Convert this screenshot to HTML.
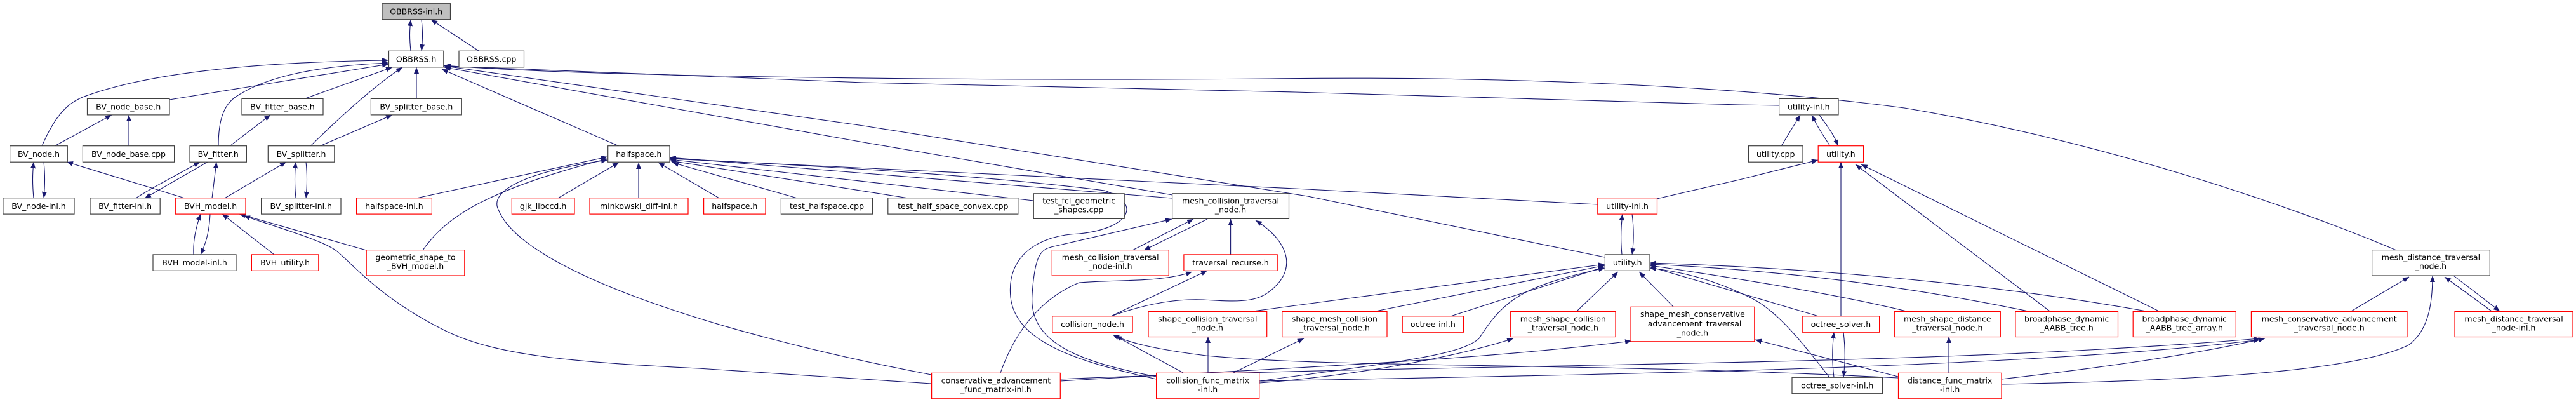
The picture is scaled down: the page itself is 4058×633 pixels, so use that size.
<!DOCTYPE html>
<html><head><meta charset="utf-8"><style>
html,body{margin:0;padding:0;background:#fff;}
svg{display:block;}
text{font-family:"DejaVu Sans","Liberation Sans",sans-serif;font-size:12.5px;fill:#000;text-anchor:middle;}
.e{fill:none;stroke:#191970;stroke-width:1.1;marker-end:url(#a);}
.n{fill:#fff;stroke:#404040;stroke-width:1.2;}
.r{fill:#fff;stroke:#ff0000;stroke-width:1.2;}
.g{fill:#bfbfbf;stroke:#404040;stroke-width:1.2;}
</style></head><body>
<svg width="4058" height="633" viewBox="0 0 4058 633" xmlns="http://www.w3.org/2000/svg">
<defs><marker id="a" markerUnits="userSpaceOnUse" markerWidth="11" markerHeight="8" refX="10" refY="4" orient="auto"><path d="M0,0 L10,4 L0,8 z" fill="#191970"/></marker></defs>
<g>
<path class="e" d="M647,80 C645,60 645,50 647,31"/>
<path class="e" d="M664,31 C666,50 666,60 664,80"/>
<path class="e" d="M754,80 L679,31"/>
<path class="e" d="M66,230 C90,175 110,162 130,153 C250,108 450,97 612,95"/>
<path class="e" d="M267,157 L612,101"/>
<path class="e" d="M344,230 C344,190 352,165 372,152 C420,120 500,104 612,99"/>
<path class="e" d="M481,155 L618,106"/>
<path class="e" d="M489,230 C540,180 590,135 634,106"/>
<path class="e" d="M656,155 L656,106"/>
<path class="e" d="M86,230 L176,181"/>
<path class="e" d="M203,230 L203,181"/>
<path class="e" d="M362,230 L426,181"/>
<path class="e" d="M504,230 L618,181"/>
<path class="e" d="M53,312 C51,290 51,275 53,255"/>
<path class="e" d="M69,255 C71,275 71,290 69,312"/>
<path class="e" d="M291,312 L105,255"/>
<path class="e" d="M214,312 C240,295 280,275 315,255"/>
<path class="e" d="M327,255 L228,312"/>
<path class="e" d="M334,312 L341,255"/>
<path class="e" d="M354,312 L451,255"/>
<path class="e" d="M466,312 C464,290 464,275 466,255"/>
<path class="e" d="M482,255 C484,275 484,290 482,312"/>
<path class="e" d="M305,401 C304,380 308,360 316,337"/>
<path class="e" d="M331,337 C330,360 326,380 316,401"/>
<path class="e" d="M432,401 L350,337"/>
<path class="e" d="M577,394 L377,337"/>
<path class="e" d="M1467,604 L1100,580 C900,570 780,560 700,520 C600,470 560,420 530,395 C510,380 460,365 384,340"/>
<path class="e" d="M666,394 C700,345 760,300 957,250"/>
<path class="e" d="M656,312 L957,247"/>
<path class="e" d="M975,230 L696,109"/>
<path class="e" d="M879,312 L975,256"/>
<path class="e" d="M1006,312 L1006,256"/>
<path class="e" d="M1133,312 L1037,256"/>
<path class="e" d="M1256,312 L1059,256"/>
<path class="e" d="M1431,312 L1055,253"/>
<path class="e" d="M1628,316 L1055,251"/>
<path class="e" d="M1846,312 L1055,248"/>
<path class="e" d="M1467,590 C1100,520 820,420 785,330 C770,300 830,270 957,252"/>
<path class="e" d="M1822,597 C1700,570 1600,540 1592,468 C1585,400 1640,370 1700,368 C1780,360 1800,320 1740,300 C1500,270 1200,258 1055,249"/>
<path class="e" d="M1822,593 C1700,570 1620,540 1626,464 C1630,400 1640,392 1660,388 L1846,345"/>
<path class="e" d="M2528,405 L2060,309 L1360,198 L700,104"/>
<path class="e" d="M2517,322 L2040,297 L1055,250"/>
<path class="e" d="M1847,307 L1360,224 L700,106"/>
<path class="e" d="M2803,166 L2740,165 L2040,145 L1360,130 L700,104"/>
<path class="e" d="M3775,394 C3600,320 3300,220 3000,170 C2700,130 2300,120 2000,124 C1500,128 900,120 700,103"/>
<path class="e" d="M1938.6,401 L1938.6,345"/>
<path class="e" d="M1784,394 L1880,345"/>
<path class="e" d="M1902,345 L1802,394"/>
<path class="e" d="M1750,498 L1902,426"/>
<path class="e" d="M1750,498 C1800,480 1850,470 1896,472 C1960,476 1985,476 2010,450 C2040,420 2030,380 1978,347"/>
<path class="e" d="M1576,587 C1600,520 1640,470 1700,445 C1760,440 1830,445 1878,428"/>
<path class="e" d="M1864,587 L1753,527"/>
<path class="e" d="M1903,587 L1903,530"/>
<path class="e" d="M1943,587 L2054,533"/>
<path class="e" d="M2990,595 C2500,570 2100,580 1900,560 C1820,550 1780,540 1757,529"/>
<path class="e" d="M1974,490 L2528,416"/>
<path class="e" d="M2167,490 L2528,418"/>
<path class="e" d="M2285,498 L2528,420"/>
<path class="e" d="M1984,600 C2200,570 2300,560 2330,533 C2370,470 2400,450 2528,422"/>
<path class="e" d="M2484,490 L2549,428"/>
<path class="e" d="M2636,483 L2582,428"/>
<path class="e" d="M2555,401 C2553,380 2553,360 2556,337"/>
<path class="e" d="M2571,337 C2574,360 2574,380 2571,401"/>
<path class="e" d="M3381,490 C3100,440 2800,420 2599,414"/>
<path class="e" d="M3195,490 C3000,450 2800,425 2599,416"/>
<path class="e" d="M3003,490 C2900,465 2750,440 2599,418"/>
<path class="e" d="M2865,498 L2599,420"/>
<path class="e" d="M2881,593 C2840,540 2800,490 2760,470 C2700,440 2650,428 2599,422"/>
<path class="e" d="M2883,230 C2870,210 2862,198 2854,181"/>
<path class="e" d="M2866,181 C2878,198 2888,210 2896,230"/>
<path class="e" d="M2806,230 L2836,181"/>
<path class="e" d="M2900,498 L2900,255"/>
<path class="e" d="M3229,490 L2923,259"/>
<path class="e" d="M3401,490 L2932,259"/>
<path class="e" d="M2610,313 L2740,283 L2864,252"/>
<path class="e" d="M2889,594 C2886,570 2886,550 2889,523"/>
<path class="e" d="M2904,523 C2907,550 2907,570 2904,594"/>
<path class="e" d="M3070,587 L3070,530"/>
<path class="e" d="M2990,593 L2765,535"/>
<path class="e" d="M3153,597 C3300,580 3450,560 3568,533"/>
<path class="e" d="M3153,605 C3400,600 3700,590 3795,543 C3825,520 3832,480 3832,434"/>
<path class="e" d="M3704,490 L3795,436"/>
<path class="e" d="M3925,490 L3851,436"/>
<path class="e" d="M3865,434 L3938,490"/>
<path class="e" d="M1670,597 C2300,570 3000,580 3560,533"/>
<path class="e" d="M1670,600 C2000,580 2300,570 2570,537"/>
<path class="e" d="M1984,603 C2150,590 2300,560 2384,533"/>
<path class="e" d="M1984,600 C2500,590 3200,580 3560,535"/>
</g>
<g>
<rect class="g" x="602" y="5.7" width="107.5" height="25"/><text x="655.7" y="22.5">OBBRSS-inl.h</text>
<rect class="n" x="612.5" y="80.3" width="86.3" height="25.5"/><text x="655.6" y="97.5">OBBRSS.h</text>
<rect class="n" x="723" y="80.3" width="102.5" height="25.5"/><text x="774.2" y="97.5">OBBRSS.cpp</text>
<rect class="n" x="137.5" y="155.4" width="129.5" height="25.5"/><text x="202.2" y="172.6">BV_node_base.h</text>
<rect class="n" x="381" y="155.4" width="128" height="25.5"/><text x="445" y="172.6">BV_fitter_base.h</text>
<rect class="n" x="584.4" y="155.4" width="142.9" height="25.5"/><text x="655.8" y="172.6">BV_splitter_base.h</text>
<rect class="n" x="2802.6" y="155.4" width="93.4" height="25.5"/><text x="2849.3" y="172.6">utility-inl.h</text>
<rect class="n" x="15.6" y="229.7" width="90.7" height="25.5"/><text x="61" y="246.9">BV_node.h</text>
<rect class="n" x="130.4" y="229.7" width="144.2" height="25.5"/><text x="202.5" y="246.9">BV_node_base.cpp</text>
<rect class="n" x="299" y="229.7" width="89.4" height="25.5"/><text x="343.7" y="246.9">BV_fitter.h</text>
<rect class="n" x="422.3" y="229.7" width="104.5" height="25.5"/><text x="474.5" y="246.9">BV_splitter.h</text>
<rect class="n" x="957.7" y="229.7" width="97.3" height="25.5"/><text x="1006.3" y="246.9">halfspace.h</text>
<rect class="n" x="2754.4" y="229.7" width="85.6" height="25.5"/><text x="2797.2" y="246.9">utility.cpp</text>
<rect class="r" x="2864.2" y="229.7" width="71.4" height="25.5"/><text x="2899.9" y="246.9">utility.h</text>
<rect class="n" x="4.9" y="311.7" width="112.1" height="25.4"/><text x="61" y="328.9">BV_node-inl.h</text>
<rect class="n" x="142" y="311.7" width="110.2" height="25.4"/><text x="197.1" y="328.9">BV_fitter-inl.h</text>
<rect class="r" x="276.3" y="311.7" width="110.7" height="25.4"/><text x="331.6" y="328.9">BVH_model.h</text>
<rect class="n" x="411.6" y="311.7" width="125.4" height="25.4"/><text x="474.3" y="328.9">BV_splitter-inl.h</text>
<rect class="r" x="561.6" y="311.7" width="118.8" height="25.4"/><text x="621" y="328.9">halfspace-inl.h</text>
<rect class="r" x="806.3" y="311.7" width="98.7" height="25.4"/><text x="855.6" y="328.9">gjk_libccd.h</text>
<rect class="r" x="929" y="311.7" width="155" height="25.4"/><text x="1006.5" y="328.9">minkowski_diff-inl.h</text>
<rect class="r" x="1108.6" y="311.7" width="97.4" height="25.4"/><text x="1157.3" y="328.9">halfspace.h</text>
<rect class="n" x="1230.4" y="311.7" width="144.2" height="25.4"/><text x="1302.5" y="328.9">test_halfspace.cpp</text>
<rect class="n" x="1398.8" y="311.7" width="205" height="25.4"/><text x="1501.3" y="328.9">test_half_space_convex.cpp</text>
<rect class="r" x="2516.8" y="311.7" width="93.7" height="25.4"/><text x="2563.6" y="328.9">utility-inl.h</text>
<rect class="n" x="1628.3" y="304.8" width="142.9" height="39.6"/><text x="1699.7" y="320.5">test_fcl_geometric</text><text x="1699.7" y="334.5">_shapes.cpp</text>
<rect class="n" x="1846.6" y="304.8" width="183.9" height="39.6"/><text x="1938.5" y="320.5">mesh_collision_traversal</text><text x="1938.5" y="334.5">_node.h</text>
<rect class="n" x="241" y="400.9" width="131" height="25.4"/><text x="306.5" y="418.1">BVH_model-inl.h</text>
<rect class="r" x="396.4" y="400.9" width="105.4" height="25.4"/><text x="449.1" y="418.1">BVH_utility.h</text>
<rect class="r" x="1864.9" y="400.9" width="147.3" height="25.4"/><text x="1938.5" y="418.1">traversal_recurse.h</text>
<rect class="n" x="2528.4" y="400.9" width="70.6" height="25.4"/><text x="2563.7" y="418.1">utility.h</text>
<rect class="r" x="577.2" y="393.6" width="154.6" height="40.4"/><text x="654.5" y="409.7">geometric_shape_to</text><text x="654.5" y="423.7">_BVH_model.h</text>
<rect class="r" x="1657.3" y="393.6" width="183.9" height="40.4"/><text x="1749.2" y="409.7">mesh_collision_traversal</text><text x="1749.2" y="423.7">_node-inl.h</text>
<rect class="n" x="3736.6" y="393.6" width="185.7" height="40.4"/><text x="3829.4" y="409.7">mesh_distance_traversal</text><text x="3829.4" y="423.7">_node.h</text>
<rect class="r" x="1657.8" y="497.8" width="126.3" height="25.4"/><text x="1721" y="515">collision_node.h</text>
<rect class="r" x="2209.2" y="497.8" width="96.4" height="25.4"/><text x="2257.4" y="515">octree-inl.h</text>
<rect class="r" x="2839.2" y="497.8" width="121.4" height="25.4"/><text x="2899.9" y="515">octree_solver.h</text>
<rect class="r" x="1809" y="490.5" width="186.7" height="40"/><text x="1902.3" y="506.5">shape_collision_traversal</text><text x="1902.3" y="520.5">_node.h</text>
<rect class="r" x="2019.8" y="490.5" width="165.2" height="40"/><text x="2102.4" y="506.5">shape_mesh_collision</text><text x="2102.4" y="520.5">_traversal_node.h</text>
<rect class="r" x="2379.7" y="490.5" width="165.3" height="40"/><text x="2462.3" y="506.5">mesh_shape_collision</text><text x="2462.3" y="520.5">_traversal_node.h</text>
<rect class="r" x="2984.3" y="490.5" width="167" height="40"/><text x="3067.8" y="506.5">mesh_shape_distance</text><text x="3067.8" y="520.5">_traversal_node.h</text>
<rect class="r" x="3174.9" y="490.5" width="161.6" height="40"/><text x="3255.7" y="506.5">broadphase_dynamic</text><text x="3255.7" y="520.5">_AABB_tree.h</text>
<rect class="r" x="3360.2" y="490.5" width="162.1" height="40"/><text x="3441.2" y="506.5">broadphase_dynamic</text><text x="3441.2" y="520.5">_AABB_tree_array.h</text>
<rect class="r" x="3546.4" y="490.5" width="245.6" height="40"/><text x="3669.2" y="506.5">mesh_conservative_advancement</text><text x="3669.2" y="520.5">_traversal_node.h</text>
<rect class="r" x="3867" y="490.5" width="186" height="40"/><text x="3960" y="506.5">mesh_distance_traversal</text><text x="3960" y="520.5">_node-inl.h</text>
<rect class="r" x="2569" y="483.3" width="194.8" height="54.5"/><text x="2666.4" y="498.9">shape_mesh_conservative</text><text x="2666.4" y="513.8">_advancement_traversal</text><text x="2666.4" y="528.6">_node.h</text>
<rect class="n" x="2823" y="594.3" width="142.5" height="25.4"/><text x="2894.2" y="611.5">octree_solver-inl.h</text>
<rect class="r" x="1467.6" y="587.4" width="202.7" height="40.4"/><text x="1569" y="603.5">conservative_advancement</text><text x="1569" y="617.5">_func_matrix-inl.h</text>
<rect class="r" x="1821.6" y="587.4" width="162.1" height="40.4"/><text x="1902.6" y="603.5">collision_func_matrix</text><text x="1902.6" y="617.5">-inl.h</text>
<rect class="r" x="2990.5" y="587.4" width="162.5" height="40.4"/><text x="3071.7" y="603.5">distance_func_matrix</text><text x="3071.7" y="617.5">-inl.h</text>
</g>
</svg>
</body></html>
